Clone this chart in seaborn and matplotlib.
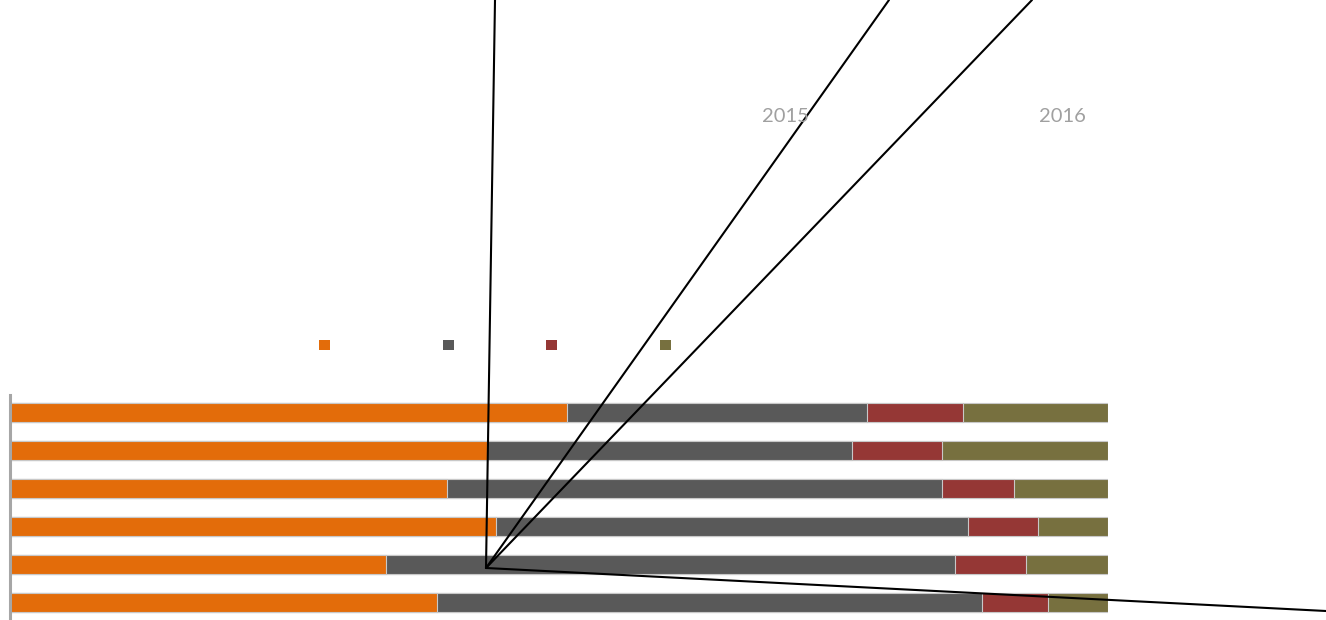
import seaborn as sns
import numpy as np
import pandas as pd
import matplotlib.pyplot as plt
from matplotlib.patches import Patch
from matplotlib.lines import Line2D

# rows (top to bottom) and the four stacked shares, in percent
rows = ["Row 1", "Row 2", "Row 3", "Row 4", "Row 5", "Row 6"]
series_names = ["Series 1", "Series 2", "Series 3", "Series 4"]
s1 = [50.8, 43.5, 39.8, 44.3, 34.3, 38.9]
s2 = [27.3, 33.2, 45.1, 43.0, 51.8, 49.7]
s3 = [8.7, 8.2, 6.6, 6.4, 6.5, 6.0]
s4 = [13.2, 15.1, 8.5, 6.3, 7.4, 5.4]
year_labels = ["2015", "2016"]

colors = ["#e36c0a", "#595959", "#953735", "#77703f"]

W, H = 1326, 620
fig = plt.figure(figsize=(W / 100, H / 100), dpi=100)
sns.set_style("white")
plt.rcParams["font.family"] = ["Lato", "DejaVu Sans"]

ax = fig.add_axes([9.6 / W, 0, 1098 / W, 225 / H])

df = pd.DataFrame({"row": rows, "s1": s1, "s2": s2, "s3": s3, "s4": s4})
cols = ["s1", "s2", "s3", "s4"]
cum = df[cols].cumsum(axis=1).assign(row=rows)

# draw cumulative totals from the longest back to the shortest
for col, c in reversed(list(zip(cols, colors))):
    sns.barplot(data=cum, x=col, y="row", color=c,
                orient="h", width=0.52, edgecolor="#c8c8c8", linewidth=0.8,
                ax=ax, saturation=1)

ax.set_xlim(0, 100)
ax.set_ylim(5.46, -0.46)
ax.set_xlabel("")
ax.set_ylabel("")
ax.set_xticks([])
ax.set_yticks([])
for side in ["top", "right", "bottom"]:
    ax.spines[side].set_visible(False)
ax.spines["left"].set_color("#a6a6a6")
ax.spines["left"].set_linewidth(2.2)
ax.patch.set_alpha(0)

# legend: colour squares only, one entry per series
legend_x = [319, 443, 546, 660]
for c, lx in zip(colors, legend_x):
    fig.legend([Patch(facecolor=c, edgecolor="none")], [""], frameon=False,
               fontsize=8, handlelength=1, handleheight=1, handletextpad=0,
               borderpad=0, borderaxespad=0, loc="center left",
               bbox_to_anchor=(lx / W, 1 - 345 / H))

# year labels
fig.text(785 / W, 1 - 117 / H, year_labels[0], ha="center", va="center",
         fontsize=14.5, color="#a0a0a0")
fig.text(1062 / W, 1 - 117 / H, year_labels[1], ha="center", va="center",
         fontsize=14.5, color="#a0a0a0")

# leader lines fanning out from one point
ox, oy = 486 / W, 1 - 568 / H
for ex, ey in [(495, 0), (889, 0), (1032, 0), (1326, 611)]:
    fig.add_artist(Line2D([ox, ex / W], [oy, 1 - ey / H],
                          color="black", linewidth=1.5))

fig.savefig("out.png", dpi=100)
